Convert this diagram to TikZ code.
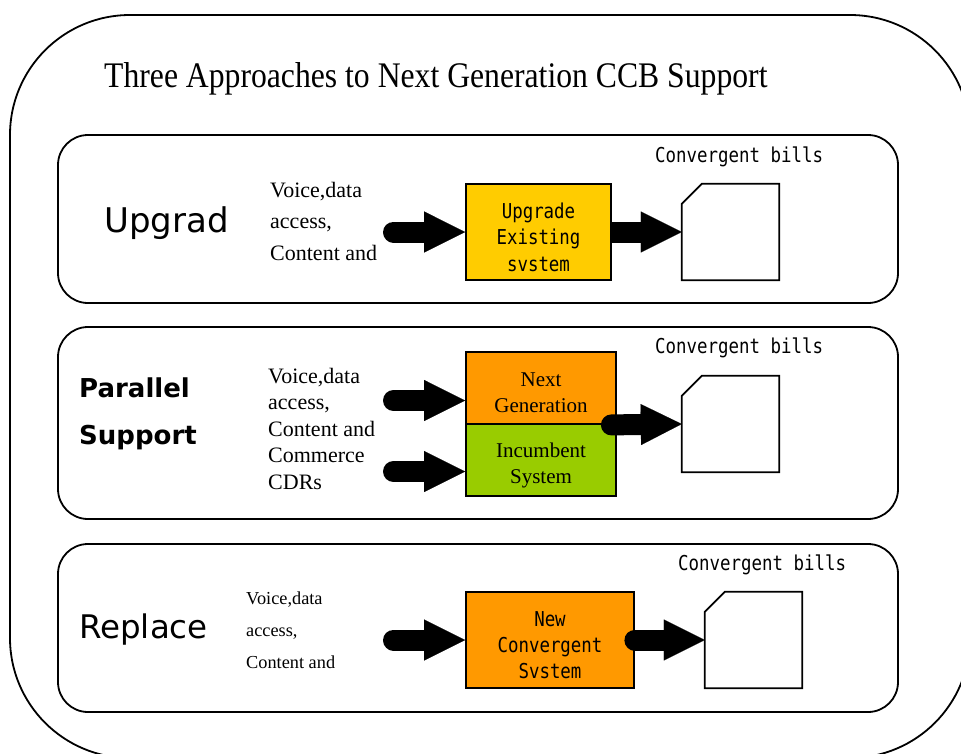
\documentclass[tikz,border=0pt]{standalone}
\usepackage{fontspec}
\setmainfont{Liberation Serif}
\newfontfamily\sansf{DejaVu Sans}
\newfontfamily\monof[FakeStretch=0.85]{DejaVu Sans Mono}
\newfontfamily\titlef[FakeStretch=0.88]{Liberation Serif}
\usetikzlibrary{arrows.meta,calc}

\definecolor{boxyellow}{HTML}{FFCC00}
\definecolor{boxorange}{HTML}{FF9900}
\definecolor{boxgreen}{HTML}{99CC00}

\tikzset{
  frame/.style={draw=black, line width=1.8pt, rounded corners=120pt},
  panel/.style={draw=black, line width=1.8pt, rounded corners=30pt},
  sysbox/.style={draw=black, line width=1.8pt, rectangle, inner sep=0pt},
  boxtext/.style={align=center, inner sep=0pt, yshift=-5pt},
  billslot/.style={rectangle, inner sep=0pt, minimum width=97pt, minimum height=96pt},
  billedge/.style={draw=black, line width=1.8pt, fill=white},
  fatarrow/.style={line width=21pt, line cap=round,
    -{Triangle[length=41pt,width=41pt,line width=0.1pt]}},
  monolabel/.style={font=\monof\fontsize{20.5}{26.5}\selectfont, inner sep=0pt},
  % multi-line blocks: the base anchor sits on the last line
  feedtext/.style={font=\fontsize{22}{31.5}\selectfont, align=left, inner sep=0pt, anchor=base west},
  heading/.style={font=\sansf\fontsize{34}{40}\selectfont, inner sep=0pt, anchor=base west},
}

\begin{document}
\begin{tikzpicture}[x=1pt, y=-1pt]
\useasboundingbox (0,0) rectangle (961,753);
\clip (0,0) rectangle (961,753);

% outer frame, partly running off the page
\draw[frame] (10,15) rectangle (970,758);
\node[font=\titlef\fontsize{36}{40}\selectfont, inner sep=0pt, anchor=base west]
  (title) at (104,87) {Three Approaches to Next Generation CCB Support};

% three approach panels
\draw[panel] (58,135) rectangle (898,303);
\draw[panel] (58,327) rectangle (898,519);
\draw[panel] (58,544) rectangle (898,712);

% ---------- Upgrade ----------
\node[heading] (upg) at (104,232) {Upgrad};
\node[feedtext] (feed1) at (270,260) {Voice,data\\access,\\Content and};
\node[monolabel, anchor=base west] (cb1) at (655,162) {Convergent bills};
\node[billslot] (bill1) at (730.5,232) {};
\draw[billedge] ([xshift=20pt]bill1.north west) -- (bill1.north east) -- (bill1.south east)
  -- (bill1.south west) -- ([yshift=-20pt]bill1.north west) -- cycle;
\coordinate (tail1) at (393.5,232);
\draw[fatarrow, line cap=butt] (538.5,232) -- (bill1.west);
\node[sysbox, fill=boxyellow, minimum width=145pt, minimum height=96pt,
  label={[boxtext, font=\monof\fontsize{20.5}{26.5}\selectfont]center:Upgrade\\Existing\\svstem}]
  (upbox) at (538.5,232) {};
\draw[fatarrow] (tail1) -- (upbox.west);

% ---------- Parallel Support ----------
\node[font=\sansf\bfseries\fontsize{26}{30}\selectfont, inner sep=0pt, anchor=base west]
  (par) at (79,397) {Parallel};
\node[font=\sansf\bfseries\fontsize{26}{30}\selectfont, inner sep=0pt, anchor=base west]
  (sup) at (79,444) {Support};
\node[feedtext, font=\fontsize{22}{26.5}\selectfont] (feed2) at (268,489)
  {Voice,data\\access,\\Content and\\Commerce\\CDRs};
\node[monolabel, anchor=base west] (cb2) at (655,353) {Convergent bills};
\node[billslot] (bill2) at (730.5,424) {};
\draw[billedge] ([xshift=20pt]bill2.north west) -- (bill2.north east) -- (bill2.south east)
  -- (bill2.south west) -- ([yshift=-20pt]bill2.north west) -- cycle;
\node[sysbox, fill=boxorange, minimum width=150pt, minimum height=72pt,
  label={[boxtext, font=\fontsize{21}{26}\selectfont]center:Next\\Generation}]
  (ngbox) at (541,388) {};
\node[sysbox, fill=boxgreen, minimum width=150pt, minimum height=72pt,
  label={[boxtext, font=\fontsize{21}{26}\selectfont]center:Incumbent\\System}]
  (isbox) at (541,460) {};
\coordinate (tail2a) at (393.5,400.5);
\coordinate (tail2b) at (393.5,471.5);
\draw[fatarrow] (tail2a) -- (tail2a -| ngbox.west);
\draw[fatarrow] (tail2b) -- (tail2b -| isbox.west);
\draw[fatarrow] ([xshift=-5.5pt]ngbox.south east) -- (bill2.west);

% ---------- Replace ----------
\node[heading, font=\sansf\fontsize{32.5}{36}\selectfont] (rep) at (79,638) {Replace};
\node[feedtext, font=\fontsize{18.3}{32}\selectfont] (feed3) at (246,668)
  {Voice,data\\access,\\Content and};
\node[monolabel, anchor=base west] (cb3) at (678,570) {Convergent bills};
\node[billslot] (bill3) at (753.5,640) {};
\draw[billedge] ([xshift=20pt]bill3.north west) -- (bill3.north east) -- (bill3.south east)
  -- (bill3.south west) -- ([yshift=-20pt]bill3.north west) -- cycle;
\node[sysbox, fill=boxorange, minimum width=168pt, minimum height=96pt,
  label={[boxtext, font=\monof\fontsize{20.5}{26}\selectfont]center:New\\Convergent\\Svstem}]
  (newbox) at (550,640) {};
\coordinate (tail3) at (393.5,640);
\draw[fatarrow] (tail3) -- (newbox.west);
\draw[fatarrow] (newbox.east) -- (bill3.west);
\end{tikzpicture}
\end{document}
